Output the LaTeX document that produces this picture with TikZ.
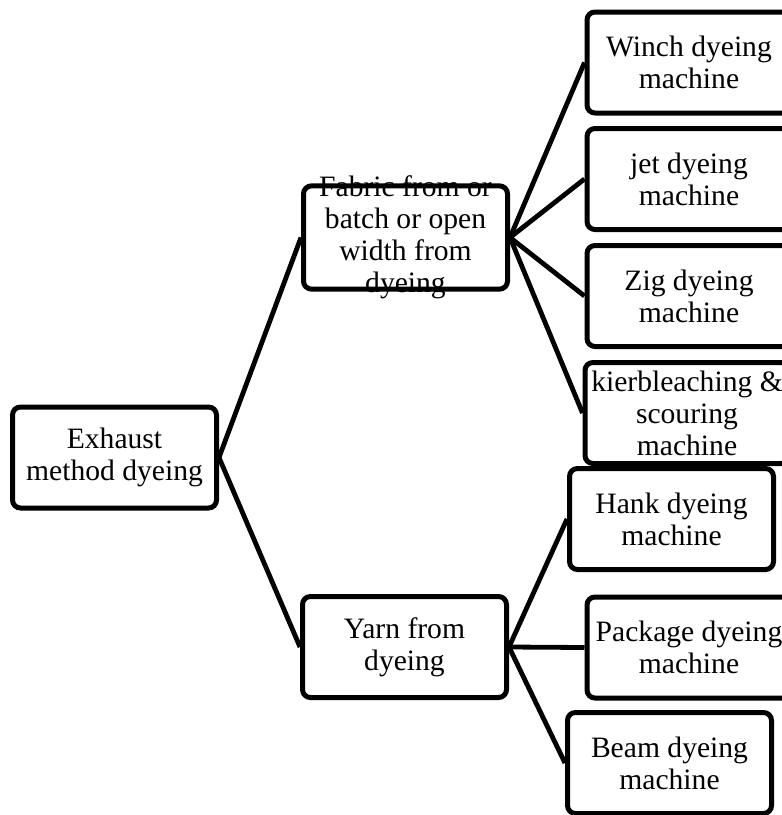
\documentclass[tikz,border=0pt]{standalone}
\usepackage{fontspec}
\setmainfont{Liberation Serif}
\usepackage{tikz}
\usetikzlibrary{positioning}
\tikzstyle{block} = [draw, fill=white, rectangle, rounded corners=4pt, line width=2.5pt,
  minimum width=102pt, minimum height=50.5pt, inner sep=1pt, align=center,
  font=\fontsize{14.8}{16}\selectfont]
\tikzstyle{link} = [line width=2.4pt]

\begin{document}
\begin{tikzpicture}[x=0.5pt, y=-0.5pt]
    \useasboundingbox (0,0) rectangle (782,815);
    \node[block] (exhaust) at (114.5,457.5) {Exhaust\\method dyeing};
    \node[block, inner ysep=-5pt] (fabric) at (405.5,237.5) {Fabric from or\\batch or open\\width from\\dyeing};
    \node[block] (yarn) at (404.5,647) {Yarn from\\dyeing};
    % fabric machines
    \node[block] (winch) at (689,62.5) {Winch dyeing\\machine};
    \node[block] (jet) at (689,179) {jet dyeing\\machine};
    \node[block] (zig) at (689,296) {Zig dyeing\\machine};
    \node[block] (kier) at (687,413) {kierbleaching \&\\scouring\\machine};
    % yarn machines
    \node[block] (hank) at (671.5,519) {Hank dyeing\\machine};
    \node[block] (package) at (689,647.5) {Package dyeing\\machine};
    \node[block] (beam) at (669.5,763) {Beam dyeing\\machine};
    \draw[link] (exhaust.east) -- (fabric.west);
    \draw[link] (exhaust.east) -- (yarn.west);
    \foreach \m in {winch, jet, zig, kier}
        \draw[link] (fabric.east) -- (\m.west);
    \foreach \m in {hank, package, beam}
        \draw[link] (yarn.east) -- (\m.west);
\end{tikzpicture}
\end{document}
